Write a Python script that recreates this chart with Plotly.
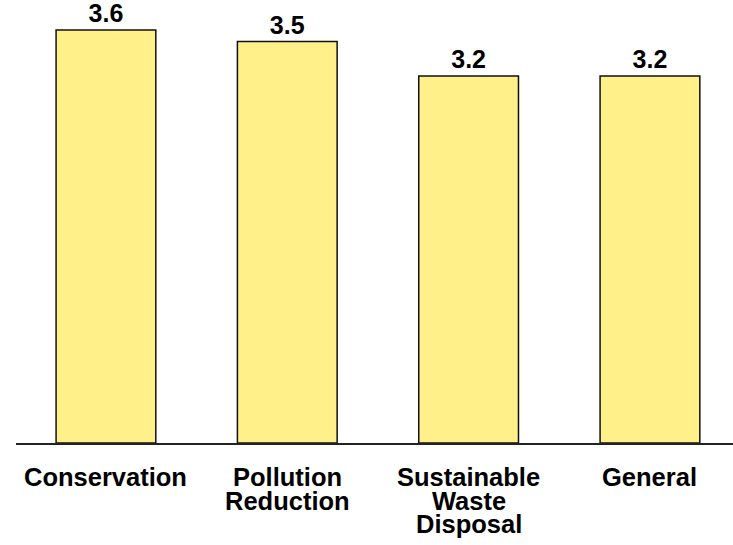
import plotly.graph_objects as go

categories = ["Conservation", "Pollution Reduction", "Sustainable Waste Disposal", "General"]
category_lines = [["Conservation"], ["Pollution", "Reduction"], ["Sustainable", "Waste", "Disposal"], ["General"]]
scores = [3.6, 3.5, 3.2, 3.2]
score_labels = ["3.6", "3.5", "3.2", "3.2"]

FONT = "Arial, Liberation Sans, sans-serif"

fig = go.Figure(
    go.Bar(
        x=categories,
        y=scores,
        text=score_labels,
        texttemplate="<b>%{text}</b>",
        textposition="outside",
        cliponaxis=False,
        width=0.55,
        marker=dict(color="#FFF08A", line=dict(color="#111111", width=1.5)),
        textfont=dict(family=FONT, size=25, color="black"),
    )
)

# Category labels: one annotation per line to keep the tight line spacing
LINE_STEP = 23.5
annotations = []
for cat, lines in zip(categories, category_lines):
    for i, line in enumerate(lines):
        annotations.append(
            dict(
                x=cat,
                xref="x",
                y=0,
                yref="paper",
                yanchor="top",
                xanchor="center",
                yshift=-18 - i * LINE_STEP,
                text="<b>" + line + "</b>",
                showarrow=False,
                font=dict(family=FONT, size=25.5, color="black"),
            )
        )

fig.update_layout(
    width=733,
    height=545,
    margin=dict(l=16, r=0, t=0, b=102),
    paper_bgcolor="white",
    plot_bgcolor="white",
    showlegend=False,
    font=dict(family=FONT, size=25, color="black"),
    annotations=annotations,
    xaxis=dict(
        range=[-0.496, 3.458],
        showline=True,
        linecolor="#222222",
        linewidth=1.5,
        showgrid=False,
        ticks="",
        showticklabels=False,
    ),
    yaxis=dict(
        range=[0, 3.862],
        visible=False,
        showgrid=False,
        zeroline=False,
    ),
)

fig.write_html("out.html")
